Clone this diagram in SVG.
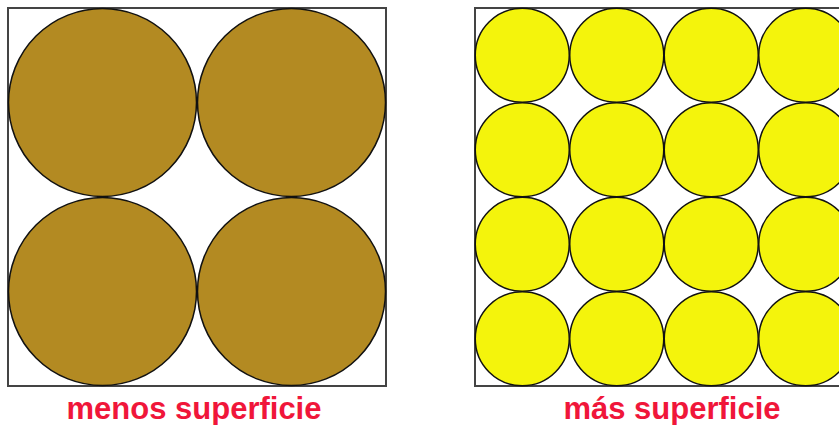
<svg xmlns="http://www.w3.org/2000/svg" width="839" height="425" viewBox="0 0 839 425">
<style>
.frame{fill:#fff;stroke:#444;stroke-width:2}
.big{fill:#b38a22;stroke:#111;stroke-width:1.5}
.small{fill:#f4f40c;stroke:#111;stroke-width:1.5}
.lbl{font-family:"Liberation Sans",Arial,sans-serif;font-weight:bold;font-size:31px;fill:#f0163a;text-anchor:middle}
</style>
<rect width="839" height="425" fill="#fff"/>
<g id="left">
<rect class="frame" x="8" y="8" width="378" height="378"/>
<circle class="big" cx="102.5" cy="102.5" r="94"/>
<circle class="big" cx="291.5" cy="102.5" r="94"/>
<circle class="big" cx="102.5" cy="291.5" r="94"/>
<circle class="big" cx="291.5" cy="291.5" r="94"/>
</g>
<g id="right">
<rect class="frame" x="475" y="8" width="378" height="378"/>
<g id="r1">
<circle class="small" cx="522.25" cy="55.25" r="47"/>
<circle class="small" cx="616.75" cy="55.25" r="47"/>
<circle class="small" cx="711.25" cy="55.25" r="47"/>
<circle class="small" cx="805.75" cy="55.25" r="47"/>
</g>
<g id="r2">
<circle class="small" cx="522.25" cy="149.75" r="47"/>
<circle class="small" cx="616.75" cy="149.75" r="47"/>
<circle class="small" cx="711.25" cy="149.75" r="47"/>
<circle class="small" cx="805.75" cy="149.75" r="47"/>
</g>
<g id="r3">
<circle class="small" cx="522.25" cy="244.25" r="47"/>
<circle class="small" cx="616.75" cy="244.25" r="47"/>
<circle class="small" cx="711.25" cy="244.25" r="47"/>
<circle class="small" cx="805.75" cy="244.25" r="47"/>
</g>
<g id="r4">
<circle class="small" cx="522.25" cy="338.75" r="47"/>
<circle class="small" cx="616.75" cy="338.75" r="47"/>
<circle class="small" cx="711.25" cy="338.75" r="47"/>
<circle class="small" cx="805.75" cy="338.75" r="47"/>
</g>
</g>
<g id="labels">
<text class="lbl" x="194" y="419">menos superficie</text>
<text class="lbl" x="672" y="419">más superficie</text>
</g>
</svg>
